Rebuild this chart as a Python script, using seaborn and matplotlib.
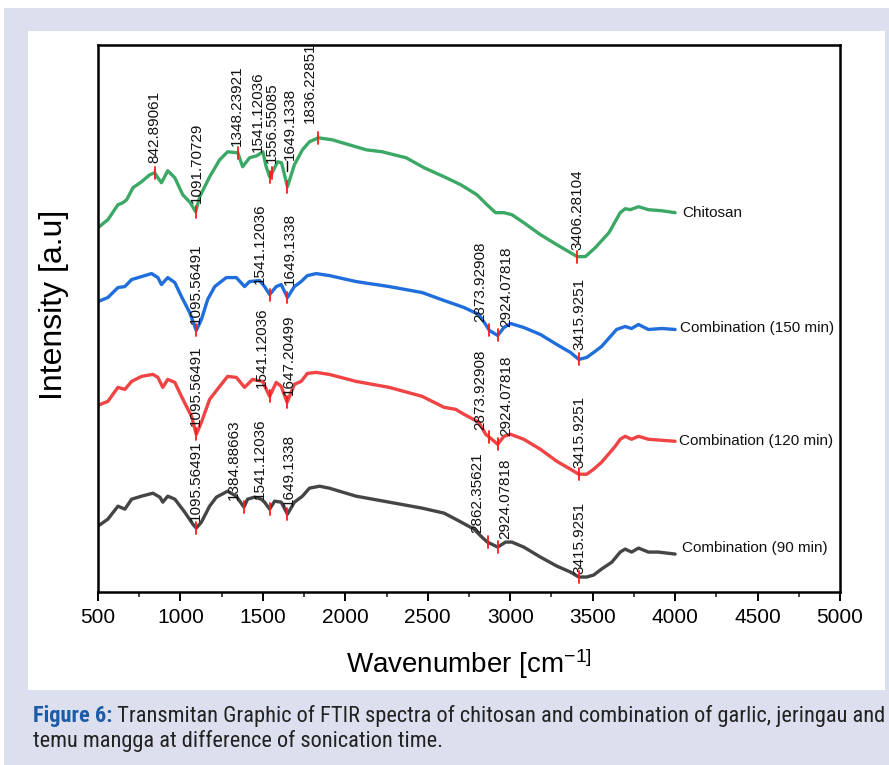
import numpy as np
import pandas as pd
import seaborn as sns
import matplotlib
matplotlib.use("Agg")
import matplotlib.pyplot as plt
from matplotlib.patches import Rectangle
from matplotlib.ticker import MultipleLocator

# ---------------- data ----------------
series_names = ["Chitosan", "Combination (150 min)", "Combination (120 min)", "Combination (90 min)"]

chitosan_wn = [500, 560, 621, 651, 674, 712, 764, 814, 843, 863, 885, 923, 966, 1014, 1060, 1092, 1117, 1177,
               1238, 1286, 1348, 1377, 1419, 1462, 1500, 1520, 1541, 1556, 1589, 1613, 1649, 1691, 1740, 1782,
               1836, 1921, 2024, 2127, 2224, 2369, 2478, 2599, 2700, 2798, 2859, 2911, 2962, 3010, 3082, 3183,
               3282, 3365, 3406, 3456, 3516, 3599, 3667, 3697, 3728, 3778, 3838, 3917, 4000]
chitosan_int = [365, 373, 388, 390, 393, 405, 411, 418, 420, 415, 410, 422, 415, 398, 390, 381, 396, 416,
                433, 441, 440, 426, 435, 437, 441, 426, 416, 420, 431, 430, 406, 428, 443, 451,
                455, 453, 448, 443, 441, 435, 425, 416, 408, 398, 388, 380, 380, 378, 370, 358,
                348, 340, 336, 336, 345, 360, 380, 384, 383, 386, 383, 382, 380]

c150_wn = [500, 560, 621, 663, 704, 764, 825, 863, 885, 923, 966, 1006, 1056, 1096, 1127, 1165, 1208, 1278,
           1339, 1389, 1419, 1480, 1510, 1541, 1581, 1611, 1649, 1691, 1732, 1770, 1823, 1903, 2065, 2266,
           2466, 2599, 2669, 2720, 2810, 2851, 2874, 2924, 2962, 3002, 3082, 3183, 3282, 3365, 3416, 3464,
           3506, 3554, 3645, 3697, 3736, 3778, 3838, 3920, 4000]
c150_int = [291, 295, 305, 306, 313, 316, 319, 315, 308, 315, 310, 296, 280, 262, 273, 293, 306, 315,
            315, 306, 311, 312, 306, 298, 306, 308, 295, 306, 311, 317, 319, 317, 311, 306,
            300, 292, 288, 285, 278, 268, 262, 257, 265, 269, 265, 258, 248, 240, 233, 235,
            240, 246, 263, 266, 264, 268, 263, 264, 263]

c120_wn = [500, 560, 621, 663, 704, 764, 833, 863, 893, 923, 966, 1006, 1067, 1096, 1127, 1177, 1238, 1286,
           1339, 1389, 1437, 1498, 1541, 1581, 1611, 1647, 1691, 1732, 1770, 1823, 1903, 2065, 2266, 2466,
           2599, 2669, 2720, 2810, 2851, 2874, 2924, 2962, 3002, 3082, 3183, 3282, 3365, 3416, 3464, 3506,
           3554, 3637, 3667, 3697, 3736, 3778, 3838, 3920, 4000]
c120_int = [187, 191, 205, 203, 211, 216, 218, 215, 205, 213, 210, 196, 176, 158, 170, 193, 206, 216,
            215, 205, 213, 211, 196, 210, 206, 190, 208, 211, 219, 220, 218, 211, 205, 196,
            185, 183, 178, 170, 158, 155, 148, 156, 158, 153, 143, 131, 123, 118, 118, 123,
            130, 146, 153, 156, 153, 156, 153, 152, 151]

c90_wn = [500, 560, 621, 663, 704, 764, 833, 875, 893, 923, 966, 1026, 1075, 1096, 1127, 1177, 1218, 1286,
          1339, 1385, 1407, 1449, 1490, 1510, 1541, 1571, 1611, 1649, 1691, 1740, 1782, 1843, 1903, 2065,
          2266, 2466, 2599, 2680, 2780, 2828, 2862, 2924, 2972, 3010, 3082, 3183, 3282, 3365, 3416, 3464,
          3506, 3554, 3617, 3667, 3697, 3736, 3778, 3838, 3899, 4000]
c90_int = [66, 73, 86, 83, 93, 96, 99, 95, 90, 96, 93, 80, 68, 64, 70, 86, 95, 101,
           96, 85, 93, 95, 93, 90, 83, 91, 90, 78, 90, 96, 104, 106, 104, 96,
           90, 84, 79, 72, 63, 55, 50, 45, 50, 50, 45, 35, 26, 20, 15, 15,
           17, 23, 30, 40, 43, 40, 44, 40, 40, 38]

chitosan_peaks = ["842.89061", "1091.70729", "1348.23921", "1541.12036", "1556.55085", "1649.1338",
                  "1836.22851", "3406.28104"]
c150_peaks = ["1095.56491", "1541.12036", "1649.1338", "2873.92908", "2924.07818", "3415.9251"]
c120_peaks = ["1095.56491", "1541.12036", "1647.20499", "2873.92908", "2924.07818", "3415.9251"]
c90_peaks = ["1095.56491", "1384.88663", "1541.12036", "1649.1338", "2862.35621", "2924.07818", "3415.9251"]

x_ticks = [500, 1000, 1500, 2000, 2500, 3000, 3500, 4000, 4500, 5000]

# ---------------- layout / style ----------------
colors = ["#3BA865", "#1F6EDB", "#F04444", "#454545"]
# label offsets in pixels: (dx, gap above marker)
chitosan_offs = [(0, 10), (1, 9), (-1, 7), (-12, 25), (0, 10), (2, 27), (-8, 15), (0, 7)]
c150_offs = [(0, 6), (-10, 11), (2, 13), (-9, 8), (9, 8), (1, 9)]
c120_offs = [(0, 8), (-8, 8), (2, 7), (-9, 7), (9, 8), (1, 6)]
c90_offs = [(0, 7), (-10, 7), (-10, 10), (1, 8), (-10, 9), (8, 8), (1, 3)]
end_offs = [(7, 0), (5, 1), (4, 0), (7, 6)]

FRAME = "#DCE0EE"
CAPTION_BLUE = "#1B5BA8"

sns.set_theme(style="white")
plt.rcParams["font.family"] = ["Liberation Sans", "DejaVu Sans"]
plt.rcParams.update({
    "mathtext.fontset": "custom",
    "mathtext.rm": "Liberation Sans",
    "mathtext.it": "Liberation Sans:italic",
    "mathtext.bf": "Liberation Sans:bold",
})

W, H = 889, 765
fig = plt.figure(figsize=(W / 100, H / 100), dpi=100)
fig.patch.set_facecolor("white")


def fx(px):
    return px / W


def fy(py):
    return 1 - py / H


fig.add_artist(Rectangle((fx(4), 0), 1 - fx(4), fy(8), transform=fig.transFigure,
                         facecolor=FRAME, edgecolor="none", zorder=-10))
fig.add_artist(Rectangle((fx(28), fy(690)), fx(885) - fx(28), fy(31) - fy(690), transform=fig.transFigure,
                         facecolor="white", edgecolor="none", zorder=-9))

ax = fig.add_axes([fx(98), fy(592), fx(840) - fx(98), fy(45) - fy(592)])
ax.set_facecolor("white")

all_wn = [chitosan_wn, c150_wn, c120_wn, c90_wn]
all_int = [chitosan_int, c150_int, c120_int, c90_int]
all_peaks = [chitosan_peaks, c150_peaks, c120_peaks, c90_peaks]
all_offs = [chitosan_offs, c150_offs, c120_offs, c90_offs]

df = pd.concat([pd.DataFrame({"wavenumber": w, "intensity": i, "sample": n})
                for w, i, n in zip(all_wn, all_int, series_names)], ignore_index=True)

sns.lineplot(data=df, x="wavenumber", y="intensity", hue="sample",
             palette=dict(zip(series_names, colors)), linewidth=2.4,
             legend=False, estimator=None, sort=False, ax=ax)

for w, i, peaks, offs in zip(all_wn, all_int, all_peaks, all_offs):
    for lab, (dx, gap) in zip(peaks, offs):
        p = float(lab)
        yv = float(np.interp(p, w, i))
        ax.plot([p, p], [yv - 6, yv + 6], color="#FF1A1A", lw=1.3, zorder=5)
        ax.annotate(lab, xy=(p, yv), xytext=(dx, gap), textcoords="offset pixels",
                    rotation=90, ha="center", va="bottom", fontsize=11, color="#111111", zorder=6)
        if lab == "1649.1338" and w is chitosan_wn:
            ax.plot([p, p], [yv + 16, yv + 26], color="black", lw=1.0, zorder=6)

for w, i, n, (dx, dy) in zip(all_wn, all_int, series_names, end_offs):
    ax.annotate(n, xy=(w[-1], i[-1]), xytext=(dx, dy), textcoords="offset pixels",
                ha="left", va="center", fontsize=11, color="#111111")

ax.set_xlim(500, 5000)
ax.set_ylim(0, 548)
ax.set_xticks(x_ticks)
ax.set_xticklabels([str(t) for t in x_ticks])
ax.xaxis.set_minor_locator(MultipleLocator(250))
ax.set_yticks([])
ax.tick_params(axis="x", which="major", bottom=True, direction="out", length=6.5, width=1.4,
               labelsize=15, pad=5, colors="black")
ax.tick_params(axis="x", which="minor", bottom=True, direction="out", length=3.6, width=1.2)
ax.tick_params(axis="y", left=False)
for s in ax.spines.values():
    s.set_visible(True)
    s.set_color("black")
    s.set_linewidth(1.8)

ax.set_xlabel("Wavenumber [cm$^{\\mathregular{-1]}}$", fontsize=20, labelpad=14, color="black")
ax.set_ylabel("Intensity [a.u]", fontsize=23, color="black")
ax.yaxis.set_label_coords((69 - 98) / 742, (592 - 305) / 547)

# ---------------- caption ----------------
cap_font = ["Liberation Sans Narrow", "Roboto Condensed", "Liberation Sans", "DejaVu Sans"]
cap_bold = "Figure 6:"
cap_line1 = " Transmitan Graphic of FTIR spectra of chitosan and combination of garlic, jeringau and"
cap_line2 = "temu mangga at difference of sonication time."

fig.canvas.draw()
renderer = fig.canvas.get_renderer()
fs = 12.0
t1 = fig.text(fx(33), fy(722), cap_bold, fontsize=fs, fontweight="bold", color=CAPTION_BLUE,
              family=cap_font, va="baseline", ha="left")
t2 = fig.text(fx(33), fy(722), cap_line1, fontsize=fs, color="#222222", family=cap_font,
              va="baseline", ha="left")
w_total = t1.get_window_extent(renderer).width + t2.get_window_extent(renderer).width
fs = fs * (884 - 33) / w_total
t1.set_fontsize(fs)
t2.set_fontsize(fs)
w1 = t1.get_window_extent(renderer).width
t2.set_x(fx(33 + w1))
fig.text(fx(33), fy(747), cap_line2, fontsize=fs, color="#222222", family=cap_font,
         va="baseline", ha="left")

fig.savefig("out.png", dpi=100, facecolor="white")
